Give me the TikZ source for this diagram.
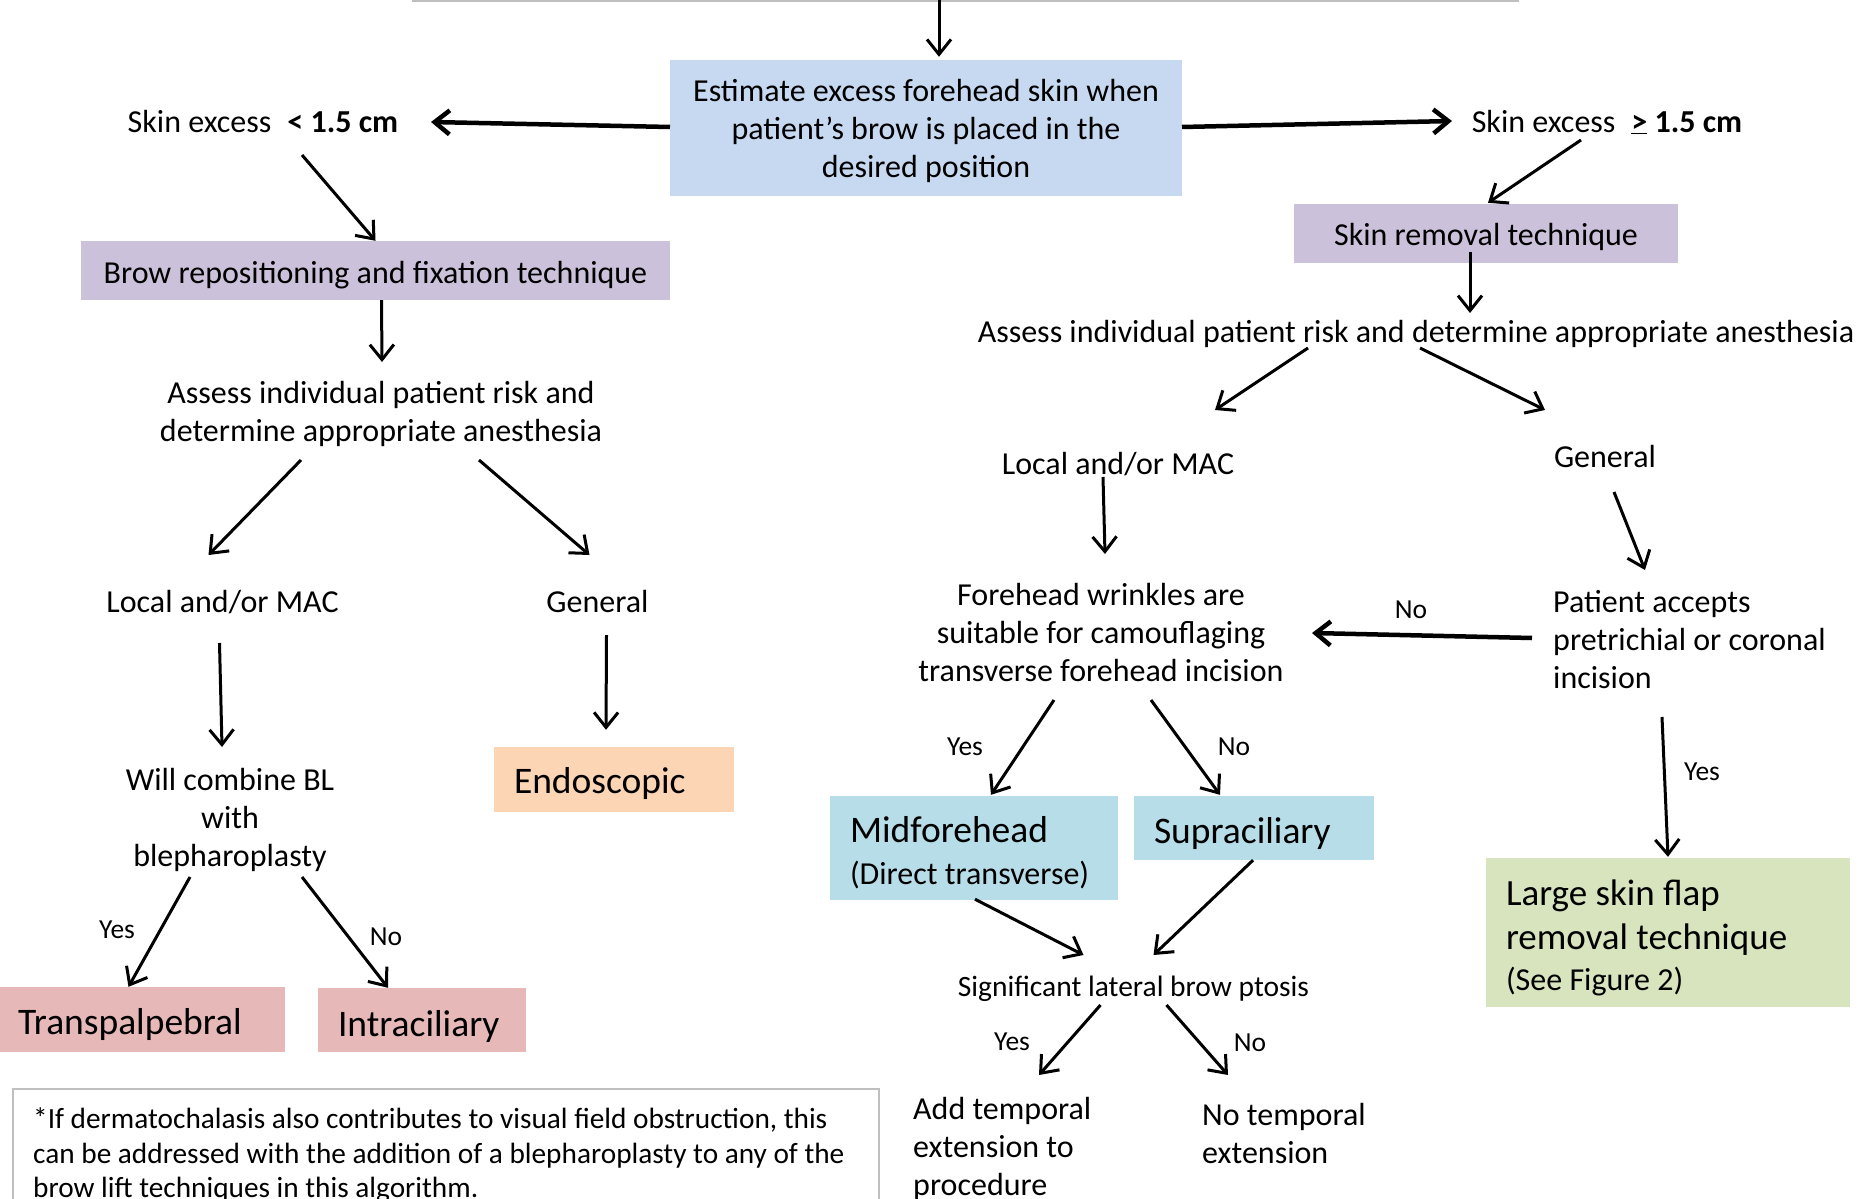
\documentclass[tikz,border=0pt]{standalone}
\usepackage{fontspec}
\setmainfont{Carlito}
\usetikzlibrary{arrows.meta,calc}
\definecolor{cblue}{HTML}{C6D9F1}
\definecolor{cpurple}{HTML}{CCC1DA}
\definecolor{cpeach}{HTML}{FCD5B5}
\definecolor{cpink}{HTML}{E6B9B8}
\definecolor{ccyan}{HTML}{B7DEE8}
\definecolor{cgreen}{HTML}{D7E4BD}
\definecolor{cgray}{HTML}{BFBFBF}
% add extra height above the text: the text moves down by half of #1
\newcommand\pd[2]{\raisebox{0pt}[\dimexpr\height+#1\relax][\depth]{#2}}
\begin{document}
\begin{tikzpicture}[x=1pt,y=-1pt,
  main/.style={inner sep=0pt, align=center, font=\fontsize{32}{38}\selectfont},
  mainl/.style={main, align=flush left},
  lbl/.style={inner sep=0pt, font=\fontsize{27.5}{32}\selectfont},
  box/.style={inner ysep=0pt, inner xsep=20pt, align=flush left},
  bigf/.style={font=\fontsize{37.5}{44}\selectfont},
  arr/.style={-{Straight Barb[length=15pt,width=24pt]}, line width=3pt},
  thk/.style={arr, line width=4.5pt}
]
\useasboundingbox (0,0) rectangle (1864,1199);
\clip (0,0) rectangle (1864,1199);
\fill[white] (0,0) rectangle (1864,1199);

% top gray line (bottom of cut-off box)
\draw[cgray, line width=3pt] (412,1) -- (1519,1);
\coordinate (topin) at (939,0);

% ---------- nodes ----------
\node[main, fill=cblue, minimum width=512pt, minimum height=136pt] (est) at (926,128)
  {\pd{5pt}{Estimate excess forehead skin when}\\patient’s brow is placed in the\\desired position};
\node[main] (sl) at (263,121) {\pd{2pt}{Skin excess\hspace{0.5em}\textbf{< 1.5 cm}}};
\node[main] (sg) at (1607,121) {\pd{2pt}{Skin excess\hspace{0.5em}\textbf{\underline{>} 1.5 cm}}};

% right branch
\node[main, fill=cpurple, minimum width=384pt, minimum height=59pt] (srt) at (1486,233.5) {\pd{7pt}{Skin removal technique}};
\node[main] (ra) at (1416,331) {\pd{5pt}{Assess individual patient risk and determine appropriate anesthesia}};
\node[main] (rl) at (1118,463) {\pd{2pt}{Local and/or MAC}};
\node[main] (rg) at (1605,457) {General};
\node[main] (fw) at (1101,633) {Forehead wrinkles are\\suitable for camouflaging\\transverse forehead incision};
\node[mainl, anchor=west] (pa) at (1553,640) {Patient accepts\\pretrichial or coronal\\incision};
\node[box, fill=ccyan, minimum width=288pt, minimum height=104pt, text width=248pt,
      font=\fontsize{32}{42}\selectfont] (mid) at (974,848)
  {\pd{9pt}{\fontsize{37.5}{42}\selectfont Midforehead}\\(Direct transverse)};
\node[box, bigf, fill=ccyan, minimum width=240pt, minimum height=64pt, text width=200pt] (sup) at (1254,828) {\pd{10pt}{Supraciliary}};
\node[box, fill=cgreen, minimum width=364pt, minimum height=149pt, text width=324pt,
      font=\fontsize{37}{44}\selectfont] (lsf) at (1668,932.5)
  {\pd{11pt}{Large skin flap}\\removal technique\\[-3pt]{\fontsize{32}{38}\selectfont (See Figure 2)}};
\node[inner sep=0pt, font=\fontsize{29.5}{35}\selectfont] (sig) at (1133.5,985) {\pd{7pt}{Significant lateral brow ptosis}};
\node[mainl, anchor=west] (add) at (913,1145) {\pd{7pt}{Add temporal}\\extension to\\procedure};
\node[mainl, anchor=west] (nt) at (1202,1132) {\pd{2pt}{No temporal}\\extension};

% left branch
\node[main, fill=cpurple, minimum width=589pt, minimum height=59pt] (brow) at (375.5,270.5) {\pd{10pt}{Brow repositioning and fixation technique}};
\node[main] (la) at (381,411) {\pd{5pt}{Assess individual patient risk and}\\determine appropriate anesthesia};
\node[main] (ll) at (222.5,602) {Local and/or MAC};
\node[main] (lg) at (597.5,602) {General};
\node[main] (wc) at (230,817) {\pd{5pt}{Will combine BL}\\with\\blepharoplasty};
\node[box, bigf, fill=cpeach, minimum width=240pt, minimum height=65pt, text width=200pt] (endo) at (614,779.5) {\pd{7pt}{Endoscopic}};
\node[box, bigf, fill=cpink, inner xsep=18pt, minimum width=285pt, minimum height=65pt, text width=249pt] (tp) at (142.5,1019.5) {\pd{10pt}{Transpalpebral}};
\node[box, bigf, fill=cpink, minimum width=208pt, minimum height=64pt, text width=168pt] (ic) at (422,1020) {\pd{12pt}{Intraciliary}};

% footnote
\draw[cgray, line width=2pt] (13,1089) rectangle (879,1240);
\node[inner sep=0pt, align=flush left, anchor=west, font=\fontsize{29.3}{34.5}\selectfont] (fn) at (33,1153)
  {\pd{5pt}{*If dermatochalasis also contributes to visual field obstruction, this}\\can be addressed with the addition of a blepharoplasty to any of the\\brow lift techniques in this algorithm.};

% labels
\node[lbl] (l1) at (1411,610) {No};
\node[lbl] (l2) at (965,747) {Yes};
\node[lbl] (l3) at (1234,747) {No};
\node[lbl] (l4) at (1702,768) {\pd{7pt}{Yes}};
\node[lbl] (l5) at (1012,1041) {\pd{2pt}{Yes}};
\node[lbl] (l6) at (1250,1041) {\pd{3pt}{No}};
\node[lbl] (l7) at (117,930) {Yes};
\node[lbl] (l8) at (386,937) {No};

% ---------- connectors ----------
\draw[arr] (topin) -- ($(est.north)+(13,-3)$);
\draw[thk] ($(est.center)+(-256,-1)$) -- ($(sl.center)+(168,1)$);
\draw[thk] ($(est.center)+(256,-1)$) -- ($(sg.center)+(-155,0)$);
\draw[arr] ($(sg.center)+(-26,19)$) -- ($(srt.north)+(2,-1)$);
\draw[arr] ($(srt.center)+(-16,18.5)$) -- ($(ra.center)+(54,-18)$);
\draw[arr] ($(ra.center)+(-108,17)$) -- ($(rl.center)+(97,-53)$);
\draw[arr] ($(ra.center)+(4,17)$) -- ($(rg.center)+(-60,-47)$);
\draw[arr] ($(rl.center)+(-15,14)$) -- ($(fw.center)+(4,-79)$);
\draw[arr] ($(rg.center)+(9,35)$) -- ($(pa.west)+(92,-70)$);
\draw[thk] ($(pa.west)+(-21,-2)$) -- ($(fw.center)+(211,0)$);
\draw[arr] ($(fw.center)+(-47,67)$) -- ($(mid.north)+(17,-1)$);
\draw[arr] ($(fw.center)+(50,67)$) -- ($(sup.north)+(-34,-1)$);
\draw[arr] ($(pa.west)+(109,77)$) -- ($(lsf.north)+(0,-1)$);
\draw[arr] ($(mid.south)+(1,-1)$) -- ($(sig.center)+(-50,-30)$);
\draw[arr] ($(sup.south)+(-1,0)$) -- ($(sig.center)+(20,-30)$);
\draw[arr] ($(sig.center)+(-33,20)$) -- ($(add.west)+(126,-70)$);
\draw[arr] ($(sig.center)+(33,20)$) -- ($(nt.west)+(26,-57)$);

\draw[arr] ($(sl.center)+(39,34)$) -- (brow.north);
\draw[arr] ($(brow.south)+(6,0)$) -- ($(la.center)+(1,-49)$);
\draw[arr] ($(la.center)+(-80,49)$) -- ($(ll.center)+(-14,-47)$);
\draw[arr] ($(la.center)+(98,49)$) -- ($(lg.center)+(-8,-47)$);
\draw[arr] ($(ll.center)+(-3,41)$) -- ($(wc.center)+(-8,-70)$);
\draw[arr] ($(lg.center)+(9,33)$) -- ($(endo.north)+(-8,-17)$);
\draw[arr] ($(wc.center)+(-40,60)$) -- ($(tp.north)+(-14,0)$);
\draw[arr] ($(wc.center)+(72,60)$) -- ($(ic.north)+(-34,0)$);
\end{tikzpicture}
\end{document}
